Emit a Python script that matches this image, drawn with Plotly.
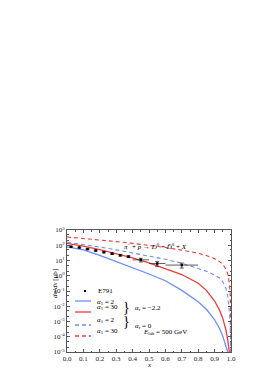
import plotly.graph_objects as go

# ---------------- data ----------------
x_red_dash = [0, .1, .2, .3, .4, .5, .6, .7, .8, .85, .9, .93, .95, .97, .98, .99, .995, .999]
y_red_dash = [347, 282, 224, 174, 132, 98, 71, 48, 30, 21, 13, 8.5, 5.6, 2.6, 1.3, 0.32, 0.063, 1e-5]

x_blue_dash = [0, .1, .2, .3, .4, .5, .6, .7, .8, .85, .9, .93, .95, .97, .98, .99, .995, .999]
y_blue_dash = [158, 112, 76, 50, 32, 20, 12, 6.6, 3.2, 2.0, 1.1, 0.71, 0.40, 0.14, 0.05, 0.0063, 0.001, 1e-5]

x_red_solid = [0, .1, .2, .3, .4, .5, .6, .7, .8, .85, .9, .93, .95, .97, .98, .99]
y_red_solid = [132, 89, 52, 29, 15, 6.9, 3.0, 1.2, 0.32, 0.11, 0.022, 0.0056, 0.0016, 2.5e-4, 6.3e-5, 1e-5]

x_blue_solid = [0, .1, .2, .3, .4, .5, .6, .7, .8, .85, .9, .93, .95, .97, .98]
y_blue_solid = [79, 50, 22, 8.9, 3.5, 1.3, 0.47, 0.11, 0.02, 0.0063, 0.0013, 3.5e-4, 1.1e-4, 2.5e-5, 1e-5]

x_e791 = [0.025, 0.075, 0.125, 0.175, 0.225, 0.275, 0.325, 0.375, 0.45, 0.55, 0.7]
xerr_e791 = [0, 0, 0, 0, 0, 0, 0, 0, 0.05, 0.05, 0.1]
y_e791 = [80, 71, 56, 45, 35, 28, 22, 18, 11, 6.3, 5.0]
yerr_e791 = [6, 5, 4, 3.5, 3, 3, 2.5, 2.5, 3, 2.2, 1.8]

y_tick_vals = [1e3, 1e2, 1e1, 1e0, 1e-1, 1e-2, 1e-3, 1e-4, 1e-5]
y_tick_text = ["10<sup>3</sup>", "10<sup>2</sup>", "10<sup>1</sup>", "10<sup>0</sup>", "10<sup>-1</sup>",
               "10<sup>-2</sup>", "10<sup>-3</sup>", "10<sup>-4</sup>", "10<sup>-5</sup>"]
x_tick_vals = [0.0, 0.1, 0.2, 0.3, 0.4, 0.5, 0.6, 0.7, 0.8, 0.9, 1.0]
x_tick_text = ["0.0", "0.1", "0.2", "0.3", "0.4", "0.5", "0.6", "0.7", "0.8", "0.9", "1.0"]

BLUE = "#6e8ef5"
RED = "#f03a3a"
FONT = "Liberation Serif"
FS = 7

# ---------------- layout geometry (px) ----------------
W, H = 275, 390
L, R, T, B = 59, 223, 222, 344


def px(xp):
    return (xp - L) / (R - L)


def py(yp):
    return (B - yp) / (B - T)


fig = go.Figure()
fig.add_trace(go.Scatter(x=x_red_dash, y=y_red_dash, mode="lines",
                         line=dict(color=RED, width=1.1, dash="4px,3px"), showlegend=False))
fig.add_trace(go.Scatter(x=x_blue_dash, y=y_blue_dash, mode="lines",
                         line=dict(color=BLUE, width=1.1, dash="4px,3px"), showlegend=False))
fig.add_trace(go.Scatter(x=x_red_solid, y=y_red_solid, mode="lines",
                         line=dict(color=RED, width=1.3), showlegend=False))
fig.add_trace(go.Scatter(x=x_blue_solid, y=y_blue_solid, mode="lines",
                         line=dict(color=BLUE, width=1.3), showlegend=False))
fig.add_trace(go.Scatter(x=x_e791, y=y_e791, mode="markers",
                         marker=dict(symbol="square", size=2.5, color="black"),
                         error_y=dict(type="data", array=yerr_e791, color="#333", thickness=0.8, width=2),
                         error_x=dict(type="data", array=xerr_e791, color="#333", thickness=0.8, width=0),
                         showlegend=False))

annotations = []
shapes = []

# legend (manual)
shapes.append(dict(type="rect", xref="paper", yref="paper",
                   x0=px(76), x1=px(78), y0=py(284), y1=py(282),
                   fillcolor="black", line=dict(width=0)))
annotations.append(dict(x=px(88), y=py(283), xref="paper", yref="paper", text="E791",
                        showarrow=False, xanchor="left", font=dict(size=FS, family=FONT, color="black")))
legend_rows = [
    (293, BLUE, "solid", "2"),
    (304, RED, "solid", "30"),
    (317, BLUE, "4px,3px", "2"),
    (328, RED, "4px,3px", "30"),
]
for yy, col, dash, a1 in legend_rows:
    shapes.append(dict(type="line", xref="paper", yref="paper",
                       x0=px(67), x1=px(83), y0=py(yy), y1=py(yy),
                       line=dict(color=col, width=1.3, dash=dash)))
    annotations.append(dict(x=px(87), y=py(yy + 1), xref="paper", yref="paper",
                            text="<i>α</i><sub>1</sub> = " + a1,
                            showarrow=False, xanchor="left", font=dict(size=FS, family=FONT, color="black")))

for yy, txt in [(299, "<i>α</i><sub>r</sub> = −2.2"), (323, "<i>α</i><sub>r</sub> = 0")]:
    annotations.append(dict(x=px(118), y=py(yy), xref="paper", yref="paper", text="}",
                            showarrow=False, font=dict(size=14, family=FONT, color="black")))
    annotations.append(dict(x=px(125), y=py(yy + 1), xref="paper", yref="paper", text=txt,
                            showarrow=False, xanchor="left", font=dict(size=FS, family=FONT, color="black")))

annotations.append(dict(x=px(181), y=py(330), xref="paper", yref="paper",
                        text="<i>E</i><sub>lab</sub> = 500 GeV",
                        showarrow=False, font=dict(size=FS, family=FONT, color="black")))
annotations.append(dict(x=px(181), y=py(232), xref="paper", yref="paper",
                        text="<i>π</i><sup>−</sup> + <i>p</i> → <i>D</i><sup>0</sup> + <i>D\u0304</i><sup>0</sup> + <i>X</i>",
                        showarrow=False, font=dict(size=FS, family=FONT, color="black")))
annotations.append(dict(x=px(41), y=py(276), xref="paper", yref="paper",
                        text="<i>dσ</i>/<i>dx</i> [μb]", textangle=-90,
                        showarrow=False, font=dict(size=FS, family=FONT, color="black")))
annotations.append(dict(x=px(141), y=py(363), xref="paper", yref="paper",
                        text="<i>x</i>",
                        showarrow=False, font=dict(size=FS, family=FONT, color="black")))

axis_common = dict(showline=True, linecolor="#555", linewidth=1, mirror="allticks",
                   ticks="inside", ticklen=3, tickcolor="#555", tickwidth=0.8,
                   showgrid=False, zeroline=False,
                   tickfont=dict(size=FS, family=FONT, color="#222"))

fig.update_layout(
    width=W, height=H,
    margin=dict(l=L, r=W - R, t=T, b=H - B, pad=0),
    paper_bgcolor="white", plot_bgcolor="white",
    xaxis=dict(range=[0, 1.0], tickvals=x_tick_vals, ticktext=x_tick_text,
               minor=dict(dtick=0.05, ticks="inside", ticklen=1.5, tickcolor="#555"),
               **axis_common),
    yaxis=dict(type="log", range=[-5, 3], tickvals=y_tick_vals, ticktext=y_tick_text,
               minor=dict(ticks="inside", ticklen=1.5, tickcolor="#555"),
               **axis_common),
    annotations=annotations,
    shapes=shapes,
    showlegend=False,
)

fig.write_html("out.html")
